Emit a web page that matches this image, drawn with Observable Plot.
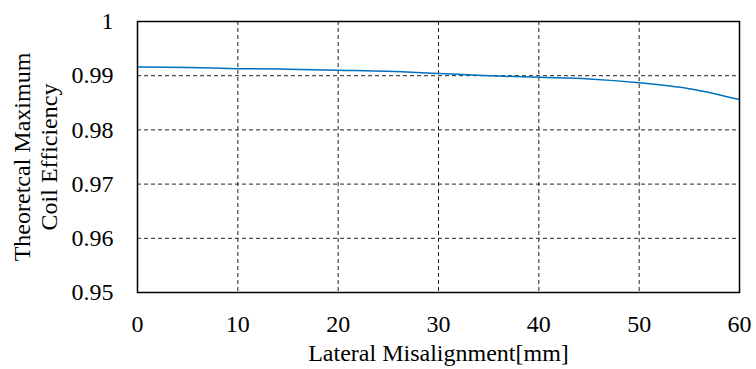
<!DOCTYPE html>
<html>
<head>
<meta charset="utf-8">
<script src="https://cdn.jsdelivr.net/npm/d3@7"></script>
<script src="https://cdn.jsdelivr.net/npm/@observablehq/plot@0.6"></script>
<style>
  body { margin: 0; background: #fff; }
  #chart svg, #chart svg text { font-family: "Liberation Serif", "Times New Roman", serif !important; }
</style>
</head>
<body>
<div id="chart"></div>
<script>
const misalignment = [0, 5, 10, 15, 20, 25, 30, 35, 40, 45, 50, 55, 60];
const efficiency = [0.9916, 0.9915, 0.9913, 0.9912, 0.9910, 0.9908, 0.9904, 0.9900, 0.9897, 0.9894, 0.9887, 0.9876, 0.9856];
const xTicks = [0, 10, 20, 30, 40, 50, 60];
const yTicks = [0.95, 0.96, 0.97, 0.98, 0.99, 1];
const yTickLabels = ["0.95", "0.96", "0.97", "0.98", "0.99", "1"];
const xLabel = "Lateral Misalignment[mm]";
const yLabel = "Theoretcal Maximum\nCoil Efficiency";

const data = misalignment.map((x, i) => ({x, y: efficiency[i]}));
const serif = "'Liberation Serif', 'Times New Roman', serif";

const chart = Plot.plot({
  width: 756,
  height: 369,
  marginLeft: 137,
  marginRight: 17,
  marginTop: 21,
  marginBottom: 77,
  style: {fontFamily: serif, fontSize: "24px", color: "#000", background: "#fff"},
  x: {domain: [0, 60]},
  y: {domain: [0.95, 1]},
  marks: [
    Plot.ruleX(xTicks.slice(1, -1), {stroke: "#222", strokeWidth: 1, strokeDasharray: "4,3"}),
    Plot.ruleY(yTicks.slice(1, -1), {stroke: "#222", strokeWidth: 1, strokeDasharray: "4,3"}),
    Plot.line(data, {x: "x", y: "y", stroke: "#0070C0", strokeWidth: 1.5, curve: "catmull-rom"}),
    Plot.frame({stroke: "#000", strokeWidth: 1.5}),
    Plot.axisX({ticks: xTicks, tickSize: 0, tickPadding: 22, fontSize: 24, fontFamily: serif,
      label: xLabel, labelAnchor: "center", labelArrow: "none", labelOffset: 68}),
    Plot.axisY({ticks: yTicks, tickSize: 0, tickPadding: 24, fontSize: 24, fontFamily: serif,
      tickFormat: (d) => yTickLabels[yTicks.indexOf(d)], label: null}),
    Plot.text([yLabel], {frameAnchor: "left", rotate: -90, dx: -103, lineAnchor: "middle", textAnchor: "middle", fontSize: 24, fontFamily: serif, fill: "#000", lineHeight: 1.15})
  ]
});
document.getElementById("chart").appendChild(chart);
</script>
</body>
</html>
